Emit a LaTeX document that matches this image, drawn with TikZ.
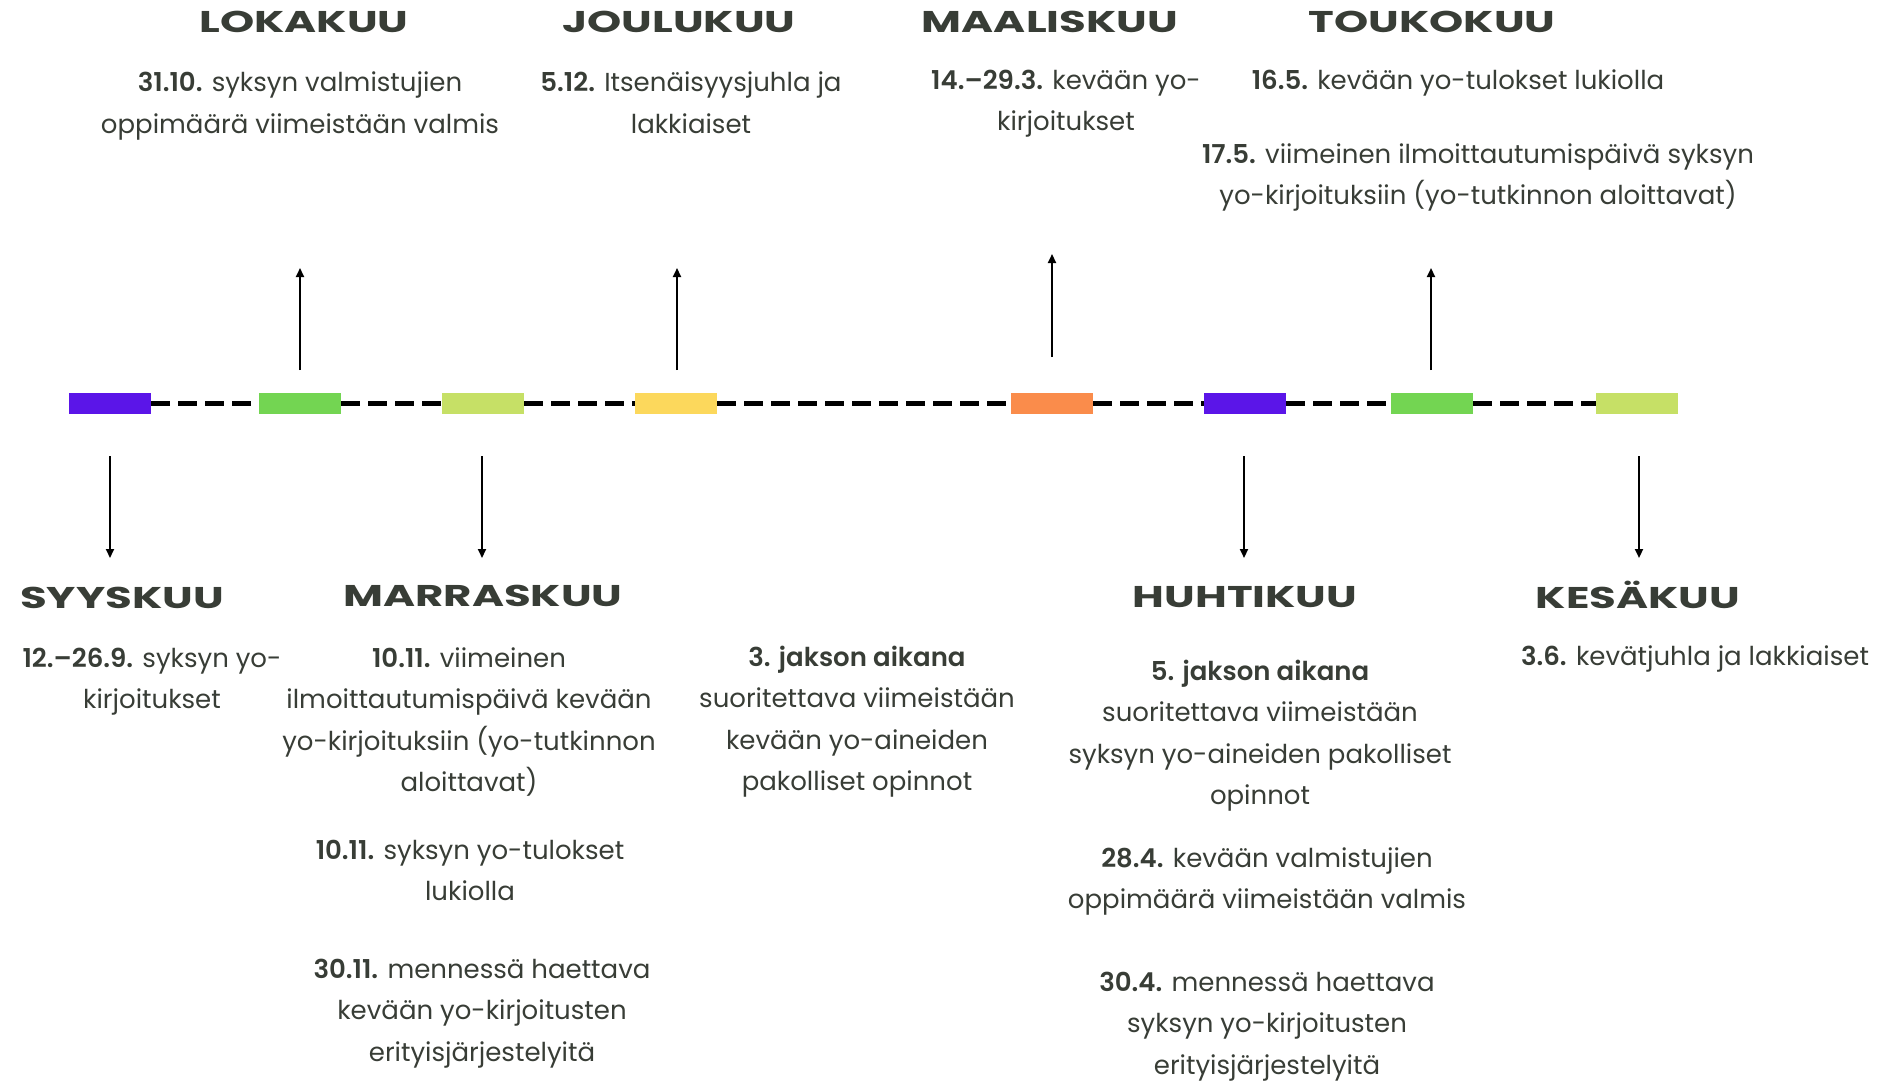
\documentclass[tikz,border=0pt]{standalone}
\usepackage{fontspec}
\setmainfont{Poppins}[BoldFont={Poppins SemiBold}]
\newfontfamily\titlefont[FakeStretch=1.45]{Poppins}
\usetikzlibrary{arrows.meta}
\definecolor{ink}{HTML}{383D36}
\definecolor{cpurple}{HTML}{5B15E8}
\definecolor{cgreen}{HTML}{73D552}
\definecolor{clime}{HTML}{C6E066}
\definecolor{cyellow}{HTML}{FCD85C}
\definecolor{corange}{HTML}{FA8C4B}
\newcommand{\blk}[1]{\begin{tabular}[t]{@{}c@{}}#1\end{tabular}}
\begin{document}
\begin{tikzpicture}[x=1pt,y=-1pt,
  month/.style={anchor=base, inner sep=0pt, text=ink, font=\titlefont\fontseries{b}\selectfont\fontsize{30}{30}\selectfont},
  info/.style={anchor=base, inner sep=0pt, text=ink, font=\fontsize{26}{41.5}\selectfont},
  markbox/.style={rectangle, minimum width=82pt, minimum height=21pt, inner sep=0pt, draw=none},
  dashline/.style={line width=4.5pt, dash pattern=on 19pt off 8pt},
  arr/.style={line width=2pt, -{Triangle[length=9pt,width=8pt]}}
]
\useasboundingbox (0,0) rectangle (1890,1081);

% timeline boxes
\node[markbox, fill=cpurple] (b1) at (110,403.5) {};
\node[markbox, fill=cgreen]  (b2) at (300,403.5) {};
\node[markbox, fill=clime]   (b3) at (483,403.5) {};
\node[markbox, fill=cyellow] (b4) at (676,403.5) {};
\node[markbox, fill=corange] (b5) at (1052,403.5) {};
\node[markbox, fill=cpurple] (b6) at (1245,403.5) {};
\node[markbox, fill=cgreen]  (b7) at (1432,403.5) {};
\node[markbox, fill=clime]   (b8) at (1637,403.5) {};

\draw[dashline] (b1.east) -- (b2.west);
\draw[dashline] (b2.east) -- (b3.west);
\draw[dashline] (b3.east) -- (b4.west);
\draw[dashline] (b4.east) -- (b5.west);
\draw[dashline] (b5.east) -- (b6.west);
\draw[dashline] (b6.east) -- (b7.west);
\draw[dashline] (b7.east) -- (b8.west);

% arrows
\coordinate (u2s) at (300,370);  \coordinate (u2e) at (300,268);
\coordinate (u4s) at (677,370);  \coordinate (u4e) at (677,268);
\coordinate (u5s) at (1052,357); \coordinate (u5e) at (1052,254);
\coordinate (u7s) at (1431,370); \coordinate (u7e) at (1431,268);
\coordinate (d1s) at (110,456);  \coordinate (d1e) at (110,558);
\coordinate (d3s) at (482,456);  \coordinate (d3e) at (482,558);
\coordinate (d6s) at (1244,456); \coordinate (d6e) at (1244,558);
\coordinate (d8s) at (1639,456); \coordinate (d8e) at (1639,558);
\draw[arr] (u2s) -- (u2e);
\draw[arr] (u4s) -- (u4e);
\draw[arr] (u5s) -- (u5e);
\draw[arr] (u7s) -- (u7e);
\draw[arr] (d1s) -- (d1e);
\draw[arr] (d3s) -- (d3e);
\draw[arr] (d6s) -- (d6e);
\draw[arr] (d8s) -- (d8e);

% month titles
\node[month] (tlok) at (304,33) {LOKAKUU};
\node[month] (tjou) at (679,33) {JOULUKUU};
\node[month] (tmaa) at (1050,33) {MAALISKUU};
\node[month] (ttou) at (1432,33) {TOUKOKUU};
\node[month] (tsyy) at (122,608) {SYYSKUU};
\node[month] (tmar) at (483,606) {MARRASKUU};
\node[month] (thuh) at (1245,607) {HUHTIKUU};
\node[month] (tkes) at (1638,608) {KESÄKUU};

% info texts
\node[info] (ilok) at (300,92) {\blk{\textbf{31.10.} syksyn valmistujien\\oppimäärä viimeistään valmis}};
\node[info] (ijou) at (691,92) {\blk{\textbf{5.12.} Itsenäisyysjuhla ja\\lakkiaiset}};
\node[info] (imaa) at (1066,89) {\blk{\textbf{14.–29.3.} kevään yo-\\kirjoitukset}};
\node[info] (itou1) at (1458,89) {\textbf{16.5.} kevään yo-tulokset lukiolla};
\node[info] (itou2) at (1478,163) {\blk{\textbf{17.5.} viimeinen ilmoittautumispäivä syksyn\\yo-kirjoituksiin (yo-tutkinnon aloittavat)}};
\node[info] (isyy) at (152,667) {\blk{\textbf{12.–26.9.} syksyn yo-\\kirjoitukset}};
\node[info] (imar1) at (469,667) {\blk{\textbf{10.11.} viimeinen\\ilmoittautumispäivä kevään\\yo-kirjoituksiin (yo-tutkinnon\\aloittavat)}};
\node[info] (imar2) at (470,859) {\blk{\textbf{10.11.} syksyn yo-tulokset\\lukiolla}};
\node[info] (imar3) at (482,978) {\blk{\textbf{30.11.} mennessä haettava\\kevään yo-kirjoitusten\\erityisjärjestelyitä}};
\node[info] (ijak3) at (857,666) {\blk{\textbf{3. jakson aikana}\\suoritettava viimeistään\\kevään yo-aineiden\\pakolliset opinnot}};
\node[info] (ihuh1) at (1260,680) {\blk{\textbf{5. jakson aikana}\\suoritettava viimeistään\\syksyn yo-aineiden pakolliset\\opinnot}};
\node[info] (ihuh2) at (1267,867) {\blk{\textbf{28.4.} kevään valmistujien\\oppimäärä viimeistään valmis}};
\node[info] (ihuh3) at (1267,991) {\blk{\textbf{30.4.} mennessä haettava\\syksyn yo-kirjoitusten\\erityisjärjestelyitä}};
\node[info] (ikes) at (1695,665) {\textbf{3.6.} kevätjuhla ja lakkiaiset};
\end{tikzpicture}
\end{document}
